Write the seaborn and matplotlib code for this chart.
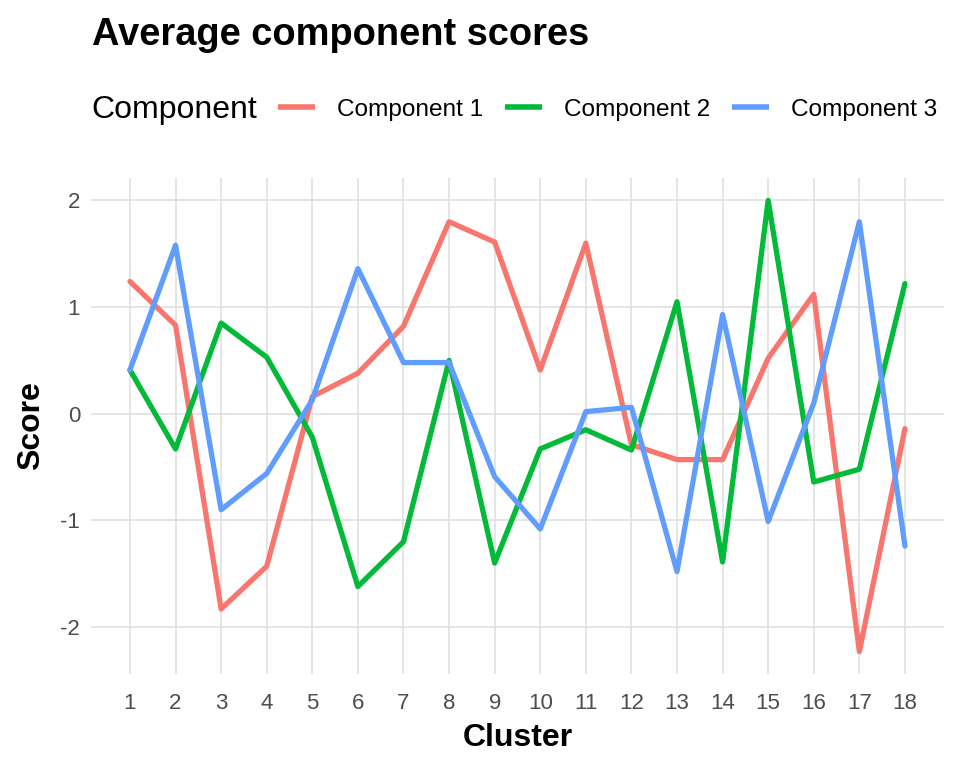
import numpy as np
import pandas as pd
import matplotlib
matplotlib.use("Agg")
import matplotlib.pyplot as plt
import seaborn as sns
from matplotlib.lines import Line2D

clusters = list(range(1, 19))
comp1 = [1.24, 0.83, -1.83, -1.43, 0.16, 0.38, 0.82, 1.80, 1.61,
         0.41, 1.60, -0.29, -0.43, -0.43, 0.52, 1.12, -2.23, -0.14]
comp2 = [0.41, -0.33, 0.85, 0.53, -0.22, -1.62, -1.20, 0.50, -1.40,
         -0.33, -0.15, -0.34, 1.05, -1.39, 2.00, -0.64, -0.52, 1.22]
comp3 = [0.41, 1.58, -0.90, -0.56, 0.13, 1.36, 0.48, 0.48, -0.59,
         -1.08, 0.02, 0.06, -1.48, 0.93, -1.01, 0.10, 1.80, -1.24]
names = ["Component 1", "Component 2", "Component 3"]
colors = ["#F8766D", "#00BA38", "#619CFF"]

df = pd.DataFrame({
    "Cluster": clusters * 3,
    "Score": comp1 + comp2 + comp3,
    "Component": [n for n in names for _ in clusters],
})

sns.set_style("whitegrid")
plt.rcParams["font.family"] = ["Liberation Sans", "DejaVu Sans"]
plt.rcParams["text.color"] = "black"
plt.rcParams["axes.labelcolor"] = "black"

fig = plt.figure(figsize=(9.6, 7.68), dpi=100)
ax = fig.add_axes([0.095, 0.1224, 0.888, 0.6458])

sns.lineplot(data=df, x="Cluster", y="Score", hue="Component",
             palette=dict(zip(names, colors)), linewidth=3.8, ax=ax,
             legend=False)

ax.set_xlim(1 - 0.85, 18 + 0.85)
ax.set_ylim(-2.44, 2.21)
ax.set_xticks(clusters)
ax.set_yticks([-2, -1, 0, 1, 2])
ax.set_yticklabels(["-2", "-1", "0", "1", "2"])
for s in ax.spines.values():
    s.set_visible(False)
ax.grid(True, color="#DEDEDE", linewidth=1.1)
ax.tick_params(axis="x", length=0, labelsize=16, labelcolor="#4D4D4D", pad=14)
ax.tick_params(axis="y", length=0, labelsize=16, labelcolor="#4D4D4D", pad=8)

ax.set_xlabel("Cluster", fontsize=23, fontweight="bold", labelpad=6)
ax.set_ylabel("Score", fontsize=23, fontweight="bold", labelpad=10)

fig.text(0.096, 0.942, "Average component scores", fontsize=27.4,
         fontweight="bold", ha="left", va="baseline")
fig.text(0.095, 0.857, "Component", fontsize=23, ha="left", va="center")

handles = [Line2D([0], [0], color=c, linewidth=4, solid_capstyle="butt")
           for c in colors]
fig.legend(handles, names, loc="center left", bbox_to_anchor=(0.2896, 0.857),
           ncol=3, frameon=False, fontsize=17.6, handlelength=1.5,
           handletextpad=0.9, columnspacing=0.9, borderaxespad=0,
           borderpad=0)

fig.savefig("out.png", dpi=100)
